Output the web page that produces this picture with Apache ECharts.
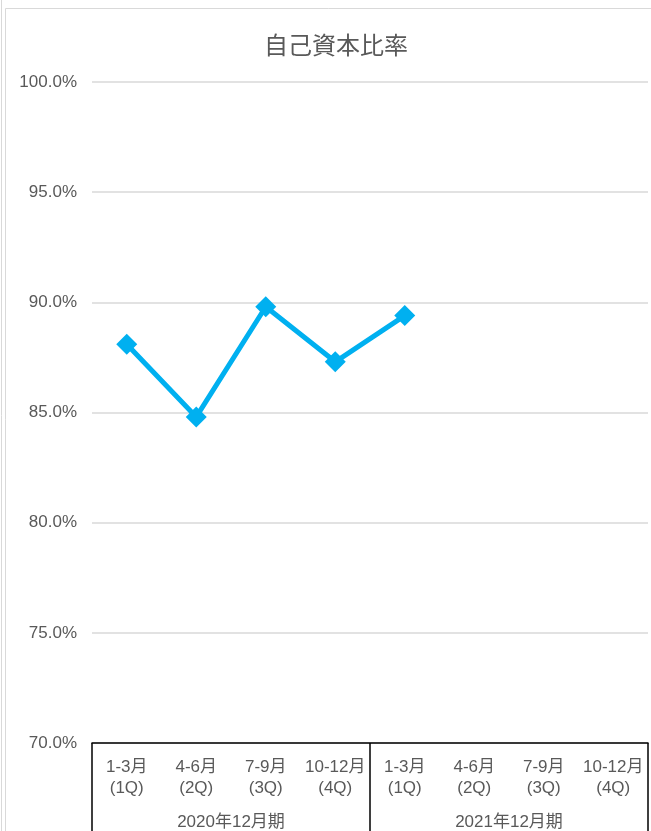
<!DOCTYPE html>
<html>
<head>
<meta charset="utf-8">
<script src="https://cdn.jsdelivr.net/npm/echarts@6/dist/echarts.min.js"></script>
<style>
  html, body { margin: 0; padding: 0; background: #fff; }
  #chart { width: 651px; height: 831px; }
</style>
</head>
<body>
<div id="chart"></div>
<script>
// 四半期ラベルと決算期
var quarters = ['1-3月\n(1Q)', '4-6月\n(2Q)', '7-9月\n(3Q)', '10-12月\n(4Q)',
                '1-3月\n(1Q)', '4-6月\n(2Q)', '7-9月\n(3Q)', '10-12月\n(4Q)'];
var periods = ['2020年12月期', '2021年12月期'];
// 自己資本比率 (%)
var ratio = [88.1, 84.8, 89.8, 87.3, 89.4, null, null, null];

var font = 'Liberation Sans, Noto Sans CJK JP, sans-serif';
var myChart = echarts.init(document.getElementById('chart'));
myChart.setOption({
    animation: false,
    title: {
        text: '自己資本比率',
        left: 331,
        top: 30,
        textAlign: 'center',
        textStyle: { fontFamily: font, fontSize: 24, fontWeight: 'normal', color: '#595959' }
    },
    grid: { left: 92, right: 3, top: 82, bottom: 87 },
    xAxis: [{
        type: 'category',
        data: quarters,
        boundaryGap: true,
        axisLine: { lineStyle: { color: '#000', width: 1.5 } },
        axisTick: { show: false },
        axisLabel: {
            margin: 14,
            interval: 0,
            fontFamily: font,
            fontSize: 17,
            lineHeight: 21,
            color: '#595959'
        }
    }, {
        type: 'category',
        data: periods,
        position: 'bottom',
        boundaryGap: true,
        axisLine: { show: false },
        axisTick: { show: true, length: 90, lineStyle: { color: '#000', width: 1.5 } },
        axisLabel: {
            margin: 71,
            fontFamily: font,
            fontSize: 17,
            color: '#595959'
        }
    }],
    yAxis: {
        type: 'value',
        min: 70,
        max: 100,
        interval: 5,
        axisLine: { show: false },
        axisTick: { show: false },
        splitLine: { lineStyle: { color: '#d9d9d9', width: 1.5 } },
        axisLabel: {
            margin: 15,
            fontFamily: font,
            fontSize: 17,
            color: '#595959',
            formatter: function (v) { return v.toFixed(1) + '%'; }
        }
    },
    graphic: [
        { type: 'line', shape: { x1: 1.5, y1: 0, x2: 1.5, y2: 831 }, style: { stroke: '#d9d9d9', lineWidth: 1 } },
        { type: 'line', shape: { x1: 5.5, y1: 8.5, x2: 5.5, y2: 831 }, style: { stroke: '#d9d9d9', lineWidth: 1 } },
        { type: 'line', shape: { x1: 5.5, y1: 8.5, x2: 651, y2: 8.5 }, style: { stroke: '#d9d9d9', lineWidth: 1 } }
    ],
    series: [{
        name: '自己資本比率',
        type: 'line',
        data: ratio,
        symbol: 'diamond',
        symbolSize: 21,
        lineStyle: { color: '#00B0F0', width: 5 },
        itemStyle: { color: '#00B0F0' }
    }]
});
</script>
</body>
</html>
